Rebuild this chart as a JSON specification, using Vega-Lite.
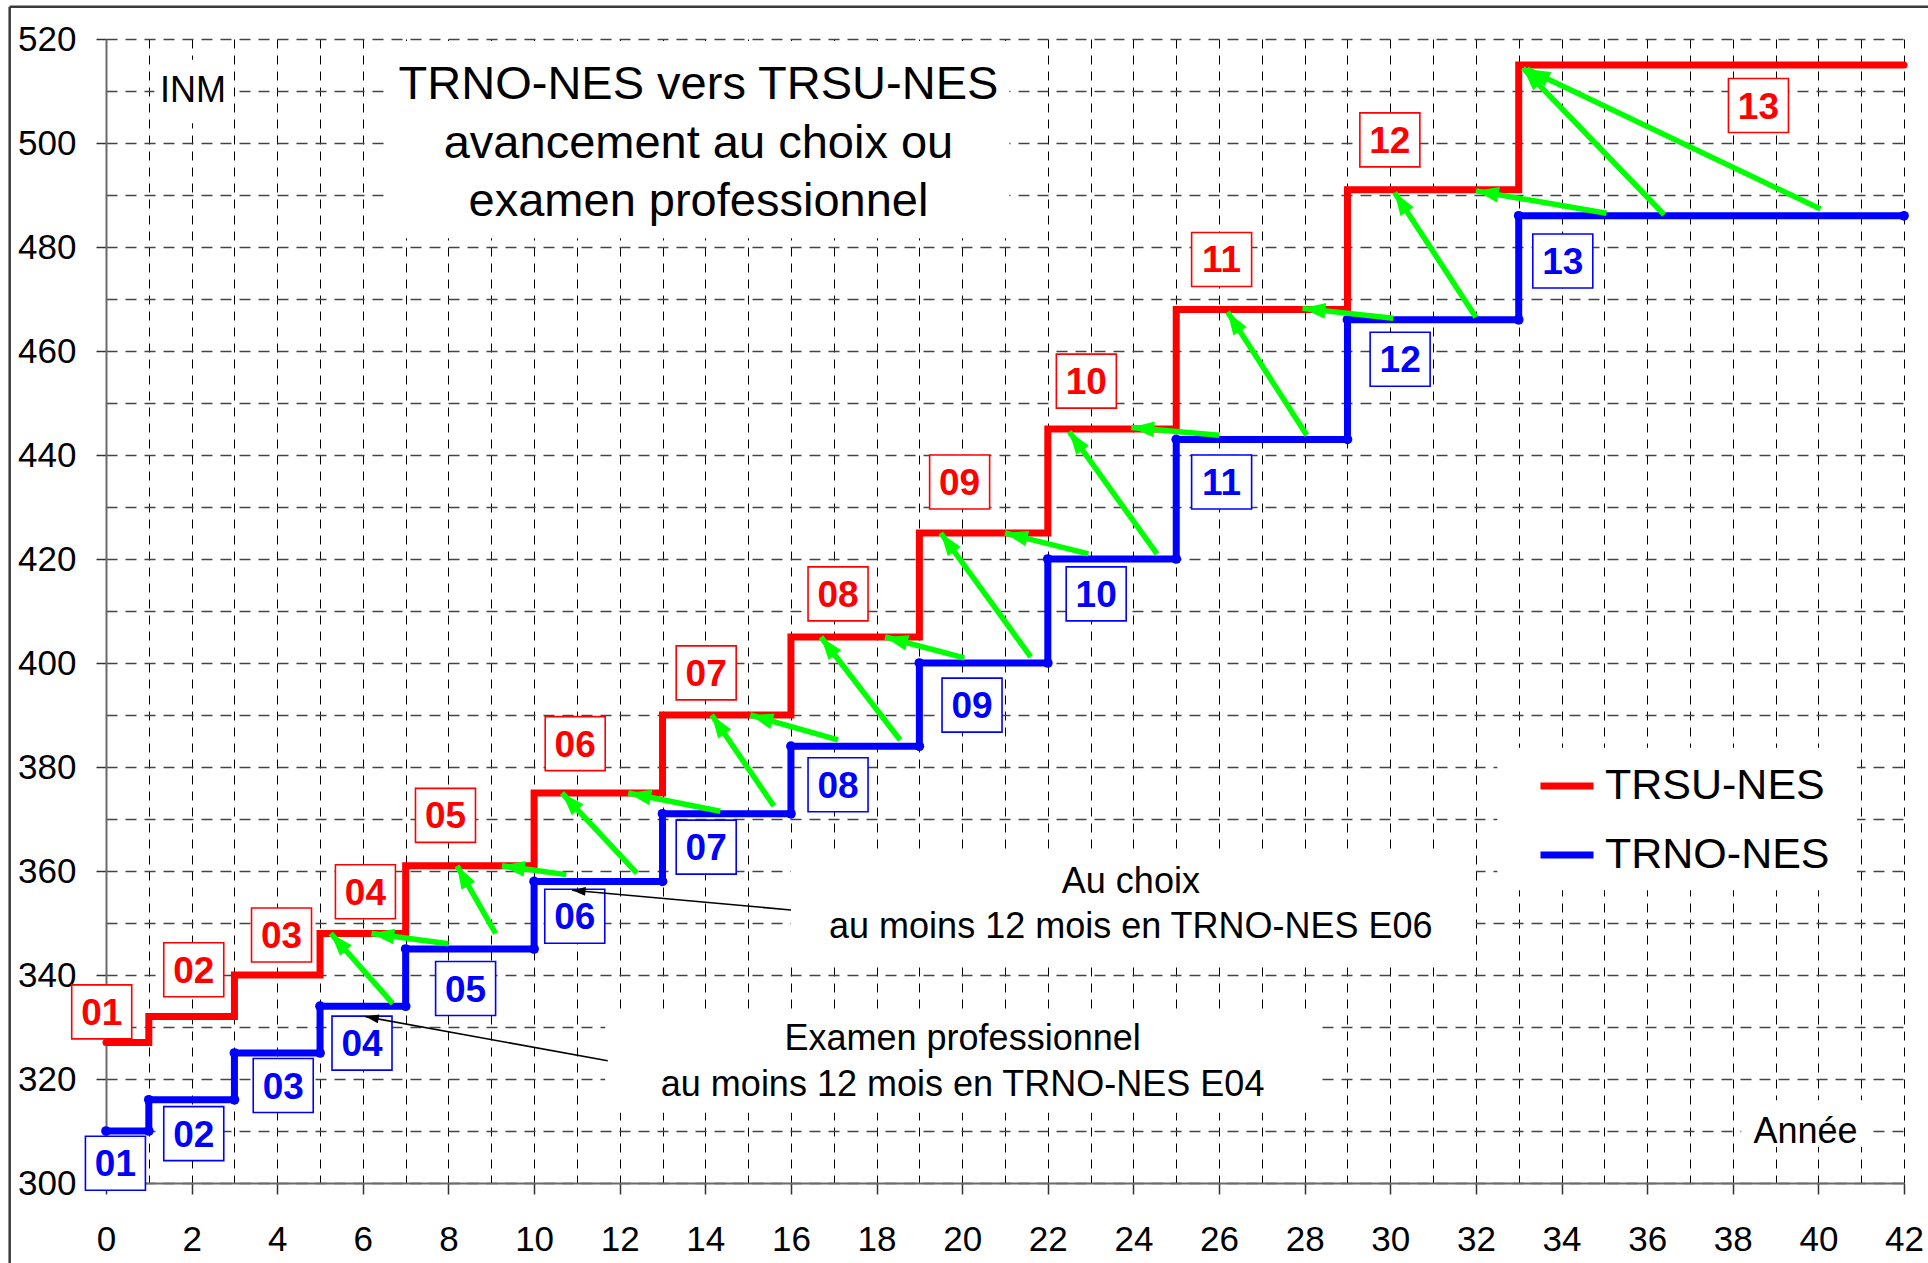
{
  "$schema": "https://vega.github.io/schema/vega-lite/v6.json",
  "width": 1798,
  "height": 1144,
  "autosize": {"type": "none"},
  "padding": {"left": 106, "top": 39, "right": 24, "bottom": 80},
  "background": "white",
  "config": {"view": {"stroke": null}, "font": "Liberation Sans"},
  "datasets": {
    "steps": [
      {"series": "TRSU-NES", "annee": 0, "inm": 327}, {"series": "TRSU-NES", "annee": 1, "inm": 327},
      {"series": "TRSU-NES", "annee": 1, "inm": 332}, {"series": "TRSU-NES", "annee": 3, "inm": 332},
      {"series": "TRSU-NES", "annee": 3, "inm": 340}, {"series": "TRSU-NES", "annee": 5, "inm": 340},
      {"series": "TRSU-NES", "annee": 5, "inm": 348}, {"series": "TRSU-NES", "annee": 7, "inm": 348},
      {"series": "TRSU-NES", "annee": 7, "inm": 361}, {"series": "TRSU-NES", "annee": 10, "inm": 361},
      {"series": "TRSU-NES", "annee": 10, "inm": 375}, {"series": "TRSU-NES", "annee": 13, "inm": 375},
      {"series": "TRSU-NES", "annee": 13, "inm": 390}, {"series": "TRSU-NES", "annee": 16, "inm": 390},
      {"series": "TRSU-NES", "annee": 16, "inm": 405}, {"series": "TRSU-NES", "annee": 19, "inm": 405},
      {"series": "TRSU-NES", "annee": 19, "inm": 425}, {"series": "TRSU-NES", "annee": 22, "inm": 425},
      {"series": "TRSU-NES", "annee": 22, "inm": 445}, {"series": "TRSU-NES", "annee": 25, "inm": 445},
      {"series": "TRSU-NES", "annee": 25, "inm": 468}, {"series": "TRSU-NES", "annee": 29, "inm": 468},
      {"series": "TRSU-NES", "annee": 29, "inm": 491}, {"series": "TRSU-NES", "annee": 33, "inm": 491},
      {"series": "TRSU-NES", "annee": 33, "inm": 515}, {"series": "TRSU-NES", "annee": 42, "inm": 515},
      {"series": "TRNO-NES", "annee": 0, "inm": 310}, {"series": "TRNO-NES", "annee": 1, "inm": 310},
      {"series": "TRNO-NES", "annee": 1, "inm": 316}, {"series": "TRNO-NES", "annee": 3, "inm": 316},
      {"series": "TRNO-NES", "annee": 3, "inm": 325}, {"series": "TRNO-NES", "annee": 5, "inm": 325},
      {"series": "TRNO-NES", "annee": 5, "inm": 334}, {"series": "TRNO-NES", "annee": 7, "inm": 334},
      {"series": "TRNO-NES", "annee": 7, "inm": 345}, {"series": "TRNO-NES", "annee": 10, "inm": 345},
      {"series": "TRNO-NES", "annee": 10, "inm": 358}, {"series": "TRNO-NES", "annee": 13, "inm": 358},
      {"series": "TRNO-NES", "annee": 13, "inm": 371}, {"series": "TRNO-NES", "annee": 16, "inm": 371},
      {"series": "TRNO-NES", "annee": 16, "inm": 384}, {"series": "TRNO-NES", "annee": 19, "inm": 384},
      {"series": "TRNO-NES", "annee": 19, "inm": 400}, {"series": "TRNO-NES", "annee": 22, "inm": 400},
      {"series": "TRNO-NES", "annee": 22, "inm": 420}, {"series": "TRNO-NES", "annee": 25, "inm": 420},
      {"series": "TRNO-NES", "annee": 25, "inm": 443}, {"series": "TRNO-NES", "annee": 29, "inm": 443},
      {"series": "TRNO-NES", "annee": 29, "inm": 466}, {"series": "TRNO-NES", "annee": 33, "inm": 466},
      {"series": "TRNO-NES", "annee": 33, "inm": 486}, {"series": "TRNO-NES", "annee": 42, "inm": 486}
    ],
    "labels": [
      {"series": "TRSU-NES", "num": "01", "annee": -0.1, "inm": 332.9},
      {"series": "TRSU-NES", "num": "02", "annee": 2.05, "inm": 341},
      {"series": "TRSU-NES", "num": "03", "annee": 4.1, "inm": 347.7},
      {"series": "TRSU-NES", "num": "04", "annee": 6.06, "inm": 356},
      {"series": "TRSU-NES", "num": "05", "annee": 7.93, "inm": 370.7},
      {"series": "TRSU-NES", "num": "06", "annee": 10.96, "inm": 384.5},
      {"series": "TRSU-NES", "num": "07", "annee": 14.02, "inm": 398.1},
      {"series": "TRSU-NES", "num": "08", "annee": 17.1, "inm": 413.3},
      {"series": "TRSU-NES", "num": "09", "annee": 19.94, "inm": 434.8},
      {"series": "TRSU-NES", "num": "10", "annee": 22.9, "inm": 454.2},
      {"series": "TRSU-NES", "num": "11", "annee": 26.06, "inm": 477.6},
      {"series": "TRSU-NES", "num": "12", "annee": 29.99, "inm": 500.6},
      {"series": "TRSU-NES", "num": "13", "annee": 38.6, "inm": 507.2},
      {"series": "TRNO-NES", "num": "01", "annee": 0.22, "inm": 303.8},
      {"series": "TRNO-NES", "num": "02", "annee": 2.05, "inm": 309.5},
      {"series": "TRNO-NES", "num": "03", "annee": 4.14, "inm": 318.75},
      {"series": "TRNO-NES", "num": "04", "annee": 5.98, "inm": 326.9},
      {"series": "TRNO-NES", "num": "05", "annee": 8.4, "inm": 337.4},
      {"series": "TRNO-NES", "num": "06", "annee": 10.95, "inm": 351.3},
      {"series": "TRNO-NES", "num": "07", "annee": 14.02, "inm": 364.6},
      {"series": "TRNO-NES", "num": "08", "annee": 17.1, "inm": 376.6},
      {"series": "TRNO-NES", "num": "09", "annee": 20.23, "inm": 391.9},
      {"series": "TRNO-NES", "num": "10", "annee": 23.13, "inm": 413.3},
      {"series": "TRNO-NES", "num": "11", "annee": 26.06, "inm": 434.8},
      {"series": "TRNO-NES", "num": "12", "annee": 30.23, "inm": 458.4},
      {"series": "TRNO-NES", "num": "13", "annee": 34.03, "inm": 477.3}
    ],
    "green": [
      {"tx": 6.7, "ty": 334.5, "hx": 5.25, "hy": 348},
      {"tx": 8.0, "ty": 346, "hx": 6.2, "hy": 348},
      {"tx": 9.1, "ty": 348, "hx": 8.2, "hy": 361},
      {"tx": 10.75, "ty": 359.3, "hx": 9.25, "hy": 361},
      {"tx": 12.4, "ty": 359.6, "hx": 10.65, "hy": 375},
      {"tx": 14.35, "ty": 371.5, "hx": 12.2, "hy": 375},
      {"tx": 15.6, "ty": 372.5, "hx": 14.15, "hy": 390},
      {"tx": 17.1, "ty": 385.2, "hx": 15.05, "hy": 390},
      {"tx": 18.55, "ty": 385.2, "hx": 16.7, "hy": 405},
      {"tx": 20.05, "ty": 401, "hx": 18.2, "hy": 405},
      {"tx": 21.6, "ty": 401.2, "hx": 19.5, "hy": 425},
      {"tx": 22.95, "ty": 421, "hx": 21.0, "hy": 425},
      {"tx": 24.55, "ty": 421, "hx": 22.5, "hy": 444.5},
      {"tx": 26.0, "ty": 443.8, "hx": 23.95, "hy": 445.3},
      {"tx": 28.05, "ty": 443.8, "hx": 26.2, "hy": 467.5},
      {"tx": 30.07, "ty": 466.3, "hx": 27.95, "hy": 468.2},
      {"tx": 32.0, "ty": 466.5, "hx": 30.1, "hy": 490.5},
      {"tx": 35.05, "ty": 486.5, "hx": 32.0, "hy": 490.8},
      {"tx": 36.4, "ty": 486.2, "hx": 33.1, "hy": 514.4},
      {"tx": 40.05, "ty": 487.3, "hx": 33.2, "hy": 514.2}
    ],
    "pointers": [
      {"tx": 16.0, "ty": 352.5, "hx": 10.89, "hy": 356.3},
      {"tx": 11.72, "ty": 323.5, "hx": 6.06, "hy": 332.0}
    ],
    "boxes": [
      {"x1": 6.5, "x2": 21.1, "y1": 481.7, "y2": 519.6},
      {"x1": 1.13, "x2": 2.95, "y1": 503.8, "y2": 516},
      {"x1": 16.0, "x2": 32.0, "y1": 342.3, "y2": 363.5},
      {"x1": 11.66, "x2": 28.4, "y1": 313.5, "y2": 332.7},
      {"x1": 38.2, "x2": 41.2, "y1": 306.9, "y2": 315.9},
      {"x1": 32.5, "x2": 40.9, "y1": 356.3, "y2": 383.7}
    ],
    "title": [
      {"txt": "TRNO-NES vers TRSU-NES", "annee": 13.84, "inm": 511.2},
      {"txt": "avancement au choix ou", "annee": 13.84, "inm": 499.9},
      {"txt": "examen professionnel", "annee": 13.84, "inm": 488.7}
    ],
    "notes": [
      {"txt": "Au choix", "annee": 23.94, "inm": 357.8},
      {"txt": "au moins 12 mois en TRNO-NES E06", "annee": 23.94, "inm": 349.2},
      {"txt": "Examen professionnel", "annee": 20.01, "inm": 327.7},
      {"txt": "au moins 12 mois en TRNO-NES E04", "annee": 20.01, "inm": 318.9},
      {"txt": "Année", "annee": 39.7, "inm": 309.8},
      {"txt": "INM", "annee": 2.03, "inm": 510.0}
    ]
  },
  "layer": [
    {
      "data": {"name": "boxes"},
      "mark": {"type": "rect", "fill": "white", "stroke": null},
      "encoding": {
        "x": {"field": "x1", "type": "quantitative", "title": null},
        "x2": {"field": "x2"},
        "y": {"field": "y1", "type": "quantitative", "title": null},
        "y2": {"field": "y2"}
      }
    },
    {
      "data": {"values": [{}]},
      "mark": {"type": "rule", "color": "#3a3a3a", "strokeWidth": 2.5},
      "encoding": {
        "x": {"datum": -2.25, "type": "quantitative", "title": null},
        "y": {"datum": 526.2, "type": "quantitative", "title": null},
        "y2": {"datum": 270}
      }
    },
    {
      "data": {"values": [{}]},
      "mark": {"type": "rule", "color": "#3a3a3a", "strokeWidth": 2.5},
      "encoding": {
        "x": {"datum": -2.25, "type": "quantitative", "title": null},
        "x2": {"datum": 43},
        "y": {"datum": 526.2, "type": "quantitative", "title": null}
      }
    },
    {
      "data": {"name": "steps"},
      "mark": {"type": "line", "strokeWidth": 7, "strokeCap": "round", "strokeJoin": "miter"},
      "encoding": {
        "x": {
          "field": "annee", "type": "quantitative", "title": null,
          "scale": {"domain": [0, 42], "nice": false, "zero": false},
          "axis": {
            "values": [0,1,2,3,4,5,6,7,8,9,10,11,12,13,14,15,16,17,18,19,20,21,22,23,24,25,26,27,28,29,30,31,32,33,34,35,36,37,38,39,40,41,42],
            "title": null, "grid": true, "gridColor": "#000", "gridDash": [9, 7], "gridWidth": 1,
            "domainColor": "#6b6b6b", "domainWidth": 2,
            "tickColor": "#333", "tickSize": 11, "tickWidth": 1.5,
            "tickOpacity": {"condition": {"test": "datum.value % 2 === 0", "value": 1}, "value": 0},
            "labelExpr": "datum.value % 2 === 0 ? datum.label : ''",
            "labelFontSize": 35, "labelFont": "Liberation Sans", "labelColor": "#000",
            "labelPadding": 28, "labelFlush": false, "labelOverlap": false, "labelBound": false
          }
        },
        "y": {
          "field": "inm", "type": "quantitative", "title": null,
          "scale": {"domain": [300, 520], "nice": false, "zero": false},
          "axis": {
            "values": [300,310,320,330,340,350,360,370,380,390,400,410,420,430,440,450,460,470,480,490,500,510,520],
            "title": null, "grid": true, "gridColor": "#444", "gridDash": [11, 8], "gridWidth": 1.4,
            "domainColor": "#6b6b6b", "domainWidth": 2,
            "tickColor": "#333", "tickSize": 10, "tickWidth": 1.5,
            "tickOpacity": {"condition": {"test": "datum.value % 20 === 0", "value": 1}, "value": 0},
            "labelExpr": "datum.value % 20 === 0 ? datum.label : ''",
            "labelFontSize": 35, "labelFont": "Liberation Sans", "labelColor": "#000",
            "labelPadding": 20, "labelFlush": false, "labelOverlap": false, "labelBound": false
          }
        },
        "color": {
          "field": "series", "type": "nominal",
          "scale": {"domain": ["TRSU-NES", "TRNO-NES"], "range": ["#ff0000", "#0000ff"]},
          "legend": {
            "title": null, "orient": "none", "legendX": 1431, "legendY": 717,
            "direction": "vertical", "symbolType": "stroke", "symbolSize": 2809,
            "symbolStrokeWidth": 7, "labelFontSize": 43, "labelFont": "Liberation Sans",
            "labelColor": "#000", "labelOffset": 8, "rowPadding": 17, "padding": 0, "labelLimit": 400
          }
        },
        "order": [{"field": "annee"}, {"field": "inm"}]
      }
    },
    {
      "data": {"name": "steps"},
      "transform": [{"filter": "datum.series === 'TRNO-NES'"}],
      "mark": {"type": "point", "filled": true, "color": "#0000ff", "size": 95, "opacity": 1},
      "encoding": {
        "x": {"field": "annee", "type": "quantitative", "title": null},
        "y": {"field": "inm", "type": "quantitative", "title": null}
      }
    },
    {
      "data": {"name": "labels"},
      "mark": {"type": "point", "shape": "M-1,-0.9H1V0.9H-1Z", "size": 3600, "filled": false, "fill": "white", "fillOpacity": 1, "strokeWidth": 1.6, "opacity": 1},
      "encoding": {
        "x": {"field": "annee", "type": "quantitative", "title": null},
        "y": {"field": "inm", "type": "quantitative", "title": null},
        "stroke": {"field": "series", "type": "nominal", "scale": {"domain": ["TRSU-NES", "TRNO-NES"], "range": ["#ff0000", "#0000ff"]}, "legend": null}
      }
    },
    {
      "data": {"name": "labels"},
      "mark": {"type": "text", "font": "Liberation Sans", "fontWeight": "bold", "fontSize": 37, "align": "center", "baseline": "middle", "dy": 2},
      "encoding": {
        "x": {"field": "annee", "type": "quantitative", "title": null},
        "y": {"field": "inm", "type": "quantitative", "title": null},
        "text": {"field": "num"},
        "fill": {"field": "series", "type": "nominal", "scale": {"domain": ["TRSU-NES", "TRNO-NES"], "range": ["#ff0000", "#0000ff"]}, "legend": null}
      }
    },
    {
      "data": {"name": "green"},
      "mark": {"type": "rule", "color": "#00ff00", "strokeWidth": 5.5, "strokeCap": "butt"},
      "encoding": {
        "x": {"field": "tx", "type": "quantitative", "title": null},
        "y": {"field": "ty", "type": "quantitative", "title": null},
        "x2": {"field": "hx"},
        "y2": {"field": "hy"}
      }
    },
    {
      "data": {"name": "green"},
      "transform": [{"calculate": "atan2((datum.hx - datum.tx) * 42.81, (datum.hy - datum.ty) * 5.2) * 180 / PI", "as": "ang"}],
      "mark": {"type": "point", "shape": "M0,0L0.62,1.8L-0.62,1.8Z", "size": 650, "filled": true, "color": "#00ff00", "opacity": 1},
      "encoding": {
        "x": {"field": "hx", "type": "quantitative", "title": null},
        "y": {"field": "hy", "type": "quantitative", "title": null},
        "angle": {"field": "ang", "type": "quantitative", "scale": null}
      }
    },
    {
      "data": {"name": "pointers"},
      "mark": {"type": "rule", "color": "#000", "strokeWidth": 1.6},
      "encoding": {
        "x": {"field": "tx", "type": "quantitative", "title": null},
        "y": {"field": "ty", "type": "quantitative", "title": null},
        "x2": {"field": "hx"},
        "y2": {"field": "hy"}
      }
    },
    {
      "data": {"name": "pointers"},
      "transform": [{"calculate": "atan2((datum.hx - datum.tx) * 42.81, (datum.hy - datum.ty) * 5.2) * 180 / PI", "as": "ang"}],
      "mark": {"type": "point", "shape": "M0,0L0.6,1.8L-0.6,1.8Z", "size": 220, "filled": true, "color": "#000", "opacity": 1},
      "encoding": {
        "x": {"field": "hx", "type": "quantitative", "title": null},
        "y": {"field": "hy", "type": "quantitative", "title": null},
        "angle": {"field": "ang", "type": "quantitative", "scale": null}
      }
    },
    {
      "data": {"name": "title"},
      "mark": {"type": "text", "font": "Liberation Sans", "fontSize": 47, "align": "center", "baseline": "middle", "color": "#000"},
      "encoding": {
        "x": {"field": "annee", "type": "quantitative", "title": null},
        "y": {"field": "inm", "type": "quantitative", "title": null},
        "text": {"field": "txt"}
      }
    },
    {
      "data": {"name": "notes"},
      "mark": {"type": "text", "font": "Liberation Sans", "fontSize": 36, "align": "center", "baseline": "middle", "color": "#000"},
      "encoding": {
        "x": {"field": "annee", "type": "quantitative", "title": null},
        "y": {"field": "inm", "type": "quantitative", "title": null},
        "text": {"field": "txt"}
      }
    }
  ]
}
